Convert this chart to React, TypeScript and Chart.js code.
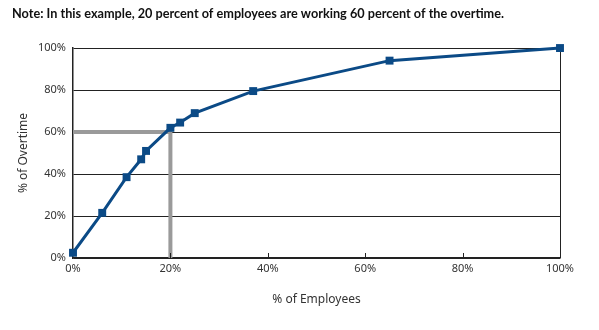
import React, { useEffect, useRef } from "react";
import { Chart, registerables } from "chart.js";

Chart.register(...registerables);

const titleText = "Note: In this example, 20 percent of employees are working 60 percent of the overtime.";
const employeesPct = [0, 6, 11, 14, 15, 20, 22, 25, 37, 65, 100];
const overtimePct = [2.5, 21.5, 38.5, 47, 51, 62, 64.5, 69, 79.5, 94, 100];
const refEmployees = [0, 20, 20];
const refOvertime = [60, 60, 0];
const xTicks = [0, 20, 40, 60, 80, 100];
const yTicks = [0, 20, 40, 60, 80, 100];
const xTitle = "% of Employees";
const yTitle = "% of Overtime";

const FONT = "'Noto Sans', 'Open Sans', sans-serif";
const TITLE_FONT = "Lato, 'Noto Sans', sans-serif";
const BLUE = "#0b4a86";

const insideTicks = {
  id: "insideTicks",
  afterDatasetsDraw(chart: any) {
    const x = chart.scales.x;
    const { ctx, chartArea } = chart;
    ctx.save();
    ctx.strokeStyle = "#222";
    ctx.lineWidth = 1;
    xTicks.slice(1, -1).forEach((v) => {
      const px = Math.round(x.getPixelForValue(v)) + 0.5;
      ctx.beginPath();
      ctx.moveTo(px, chartArea.bottom);
      ctx.lineTo(px, chartArea.bottom - 5);
      ctx.stroke();
    });
    ctx.restore();
  },
};

export default function App() {
  const ref = useRef<HTMLCanvasElement | null>(null);
  useEffect(() => {
    if (!ref.current) return;
    const chart = new Chart(ref.current, {
      type: "line",
      data: {
        datasets: [
          {
            data: employeesPct.map((x, i) => ({ x, y: overtimePct[i] })),
            borderColor: BLUE,
            backgroundColor: BLUE,
            borderWidth: 3,
            pointStyle: "rect",
            pointRadius: 5.6,
            pointBorderWidth: 0,
            tension: 0,
            clip: false,
            order: 1,
          },
          {
            data: refEmployees.map((x, i) => ({ x, y: refOvertime[i] })),
            borderColor: "#9a9a9a",
            borderWidth: 4,
            pointRadius: 0,
            tension: 0,
            clip: false,
            order: 2,
            borderJoinStyle: "miter",
          },
        ],
      },
      options: {
        animation: false,
        responsive: false,
        maintainAspectRatio: false,
        layout: { padding: { left: 12, right: 39, top: 0, bottom: 0 } },
        plugins: {
          legend: { display: false },
          tooltip: { enabled: false },
          title: {
            display: true,
            text: titleText,
            align: "start",
            color: "#111",
            font: { family: TITLE_FONT, size: 12.7, weight: "bold" },
            padding: { top: 6, bottom: 26.8 },
          },
        },
        scales: {
          x: {
            type: "linear",
            min: 0,
            max: 100,
            afterFit: (s: any) => {
              s.height = 72;
            },
            afterBuildTicks: (s: any) => {
              s.ticks = xTicks.map((v) => ({ value: v }));
            },
            ticks: {
              color: "#333",
              font: { family: FONT, size: 11 },
              padding: 4,
              maxRotation: 0,
              callback: (v: any) => v + "%",
            },
            grid: {
              drawTicks: false,
              color: (c: any) => (c.tick && c.tick.value === 100 ? "#222" : "rgba(0,0,0,0)"),
              lineWidth: 1,
            },
            border: { display: true, color: "#222", width: 1.5 },
            title: {
              display: true,
              text: xTitle,
              color: "#333",
              font: { family: FONT, size: 12 },
              padding: { top: 0, bottom: 22.8 },
            },
          },
          y: {
            type: "linear",
            min: 0,
            max: 100,
            afterFit: (s: any) => {
              s.width = 61;
            },
            afterBuildTicks: (s: any) => {
              s.ticks = yTicks.map((v) => ({ value: v }));
            },
            ticks: {
              color: "#333",
              font: { family: FONT, size: 11 },
              padding: 7,
              callback: (v: any) => v + "%",
            },
            grid: { drawTicks: false, color: "#222", lineWidth: 1 },
            border: { display: true, color: "#222", width: 1.5 },
            title: {
              display: true,
              text: yTitle,
              color: "#333",
              font: { family: FONT, size: 12 },
              padding: { top: 4.5, bottom: 0 },
            },
          },
        },
      },
      plugins: [insideTicks],
    } as any);
    return () => chart.destroy();
  }, []);
  return (
    <div style={{ position: "absolute", left: 0, top: 0, width: 599, height: 330, background: "#fff" }}>
      <canvas ref={ref} width={599} height={330} style={{ display: "block" }} />
    </div>
  );
}
